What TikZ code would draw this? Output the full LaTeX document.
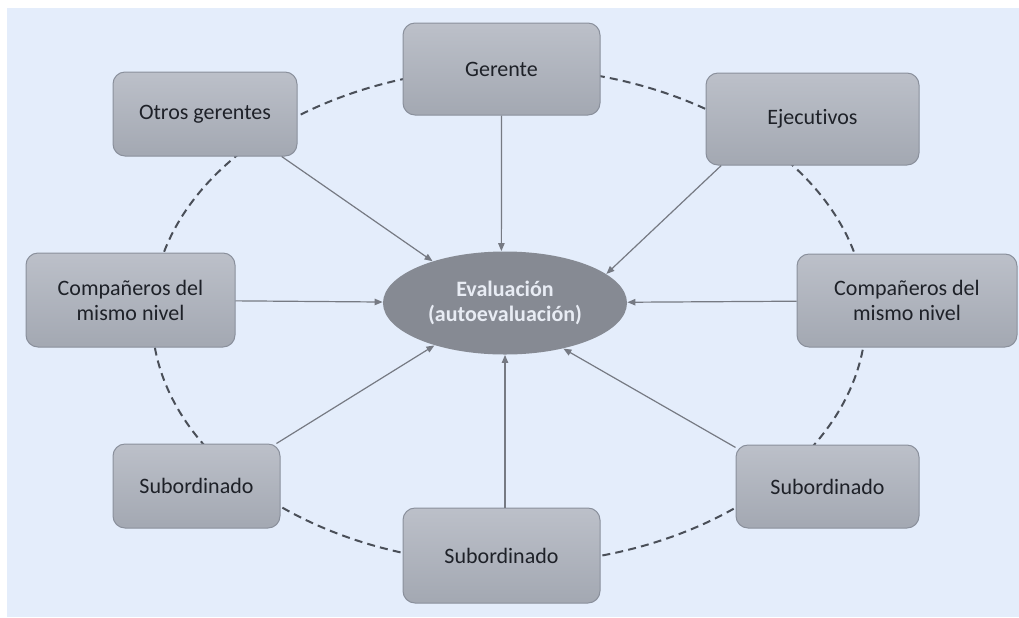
\documentclass[tikz,border=0pt]{standalone}
\usepackage{fontspec}
\setmainfont{Carlito}[Ligatures={NoCommon}]
\usepackage{tikz}
\usetikzlibrary{arrows.meta, shapes.geometric}
\definecolor{fondo}{RGB}{228,237,251}
\definecolor{cajaarriba}{RGB}{188,192,201}
\definecolor{cajaabajo}{RGB}{163,168,178}
\definecolor{borde}{RGB}{138,144,156}
\definecolor{texto}{RGB}{30,33,40}
\definecolor{centro}{RGB}{134,138,147}
\definecolor{centrotexto}{RGB}{232,236,244}
\definecolor{flecha}{RGB}{118,122,131}
\definecolor{trazo}{RGB}{74,79,88}
\tikzset{
  caja/.style={rectangle, rounded corners=6pt, draw=borde, line width=0.5pt,
    top color=cajaarriba, bottom color=cajaabajo, text=texto, align=center,
    font=\fontsize{11}{12.5}\selectfont, inner sep=0pt},
  flechita/.style={draw=flecha, line width=0.6pt, -{Triangle[length=4pt,width=3.2pt]}},
  anillo/.style={draw=trazo, line width=1pt, dash pattern=on 4pt off 2.6pt}
}

\begin{document}
\begin{tikzpicture}[x=0.5pt, y=-0.5pt]
 \useasboundingbox (0,0) rectangle (1019,617);
 \fill[fondo] (7,8) rectangle (1019,617);
 \coordinate (ce) at (509,316);
 \draw[anillo] (ce) ellipse (178.5pt and 124pt);
 \node[caja, minimum width=98.5pt, minimum height=46pt] (ger) at (501.5,69) {Gerente};
 \node[caja, minimum width=92pt, minimum height=42pt] (otr) at (205,114) {Otros gerentes};
 \node[caja, minimum width=106.5pt, minimum height=46pt] (eje) at (812.5,119) {Ejecutivos};
 \node[caja, minimum width=104.5pt, minimum height=47pt] (comL) at (130.5,300) {Compañeros del\\mismo nivel};
 \node[caja, minimum width=110pt, minimum height=46.5pt] (comR) at (907,300.5) {Compañeros del\\mismo nivel};
 \node[caja, minimum width=83.5pt, minimum height=42pt] (subL) at (196.5,486) {Subordinado};
 \node[caja, minimum width=98.5pt, minimum height=47.5pt] (subB) at (501.5,555.5) {Subordinado};
 \node[caja, minimum width=91.5pt, minimum height=41.5pt] (subR) at (827.5,486.5) {Subordinado};
 \node[ellipse, fill=centro, minimum width=122pt, minimum height=51.5pt, inner sep=0pt,
   text=centrotexto, align=center, font=\fontsize{11}{12.5}\selectfont\bfseries] (ev) at (505,303)
   {Evaluación\\(autoevaluación)};
 \draw[flechita] (otr.-29) -- (ev.150);
 \draw[flechita] (ger.south) -- (ev.94);
 \draw[flechita] (eje.207) -- (ev.16);
 \draw[flechita] (comL) -- (ev);
 \draw[flechita] (comR) -- (ev);
 \draw[flechita] (subL.28) -- (ev.211);
 \draw[flechita] (subB.north -| ev.south) -- (ev.south);
 \draw[flechita] (subR.157) -- (ev.322);
\end{tikzpicture}
\end{document}
